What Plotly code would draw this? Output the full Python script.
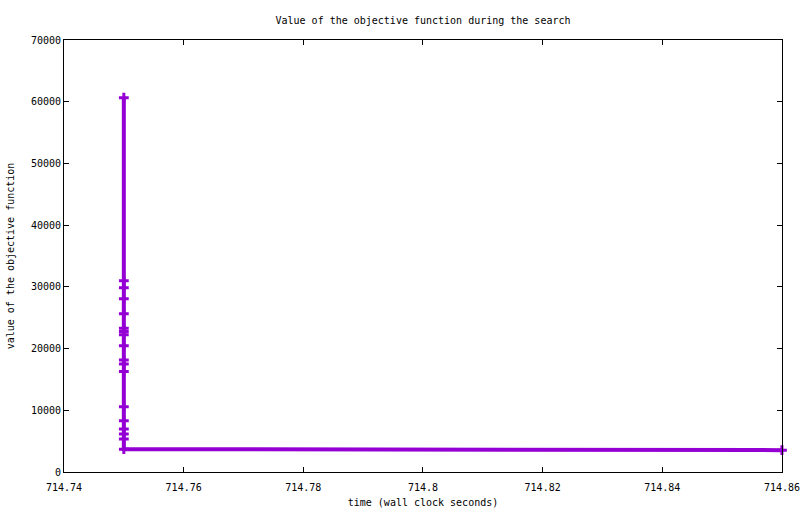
import plotly.graph_objects as go

# objective value samples (time, value)
times = [714.75] * 18 + [714.86]
values = [60650, 31000, 29860, 28080, 25650, 23300, 22780, 22240, 20470,
          18150, 17500, 16290, 10580, 8310, 6970, 6160, 5350, 3700, 3540]

x_ticks = [714.74, 714.76, 714.78, 714.80, 714.82, 714.84, 714.86]
x_labels = ["714.74", "714.76", "714.78", "714.8", "714.82", "714.84", "714.86"]
y_ticks = [0, 10000, 20000, 30000, 40000, 50000, 60000, 70000]
y_labels = [str(v) for v in y_ticks]

COLOR = "#9400D3"
FONT = dict(family="DejaVu Sans Mono", size=10, color="black")

fig = go.Figure()
fig.add_trace(go.Scatter(
    x=times, y=values, mode="lines+markers",
    line=dict(color=COLOR, width=4),
    marker=dict(symbol="cross-thin", size=7, color=COLOR,
                line=dict(color=COLOR, width=3)),
    cliponaxis=False, showlegend=False,
))

axis_common = dict(
    showline=True, linecolor="black", linewidth=1, mirror="ticks",
    ticks="inside", ticklen=5, tickcolor="black", showgrid=False,
    zeroline=False, tickfont=FONT, automargin=False, ticklabeloverflow="allow",
)

fig.update_xaxes(range=[714.74, 714.86001], tickvals=x_ticks, ticktext=x_labels,
                 ticklabelstandoff=6,
                 title=dict(text="time (wall clock seconds)", font=FONT, standoff=6),
                 **axis_common)
fig.update_yaxes(range=[0, 70000], tickvals=y_ticks, ticktext=y_labels,
                 title=dict(text="value of the objective function", font=FONT, standoff=14),
                 **axis_common)

fig.update_layout(
    width=800, height=514,
    margin=dict(l=64, r=18, t=40, b=42, autoexpand=False),
    paper_bgcolor="white", plot_bgcolor="white",
    title=dict(text="Value of the objective function during the search",
               font=FONT, x=0.5 + (64 - 18) / 2 / 800, xanchor="center",
               y=1 - 20 / 514, yanchor="middle"),
)

# drop the default page margin so the figure sits at the window origin
fig.write_html("out.html", config={"displayModeBar": False},
               post_script="document.body.style.margin = '0';")
